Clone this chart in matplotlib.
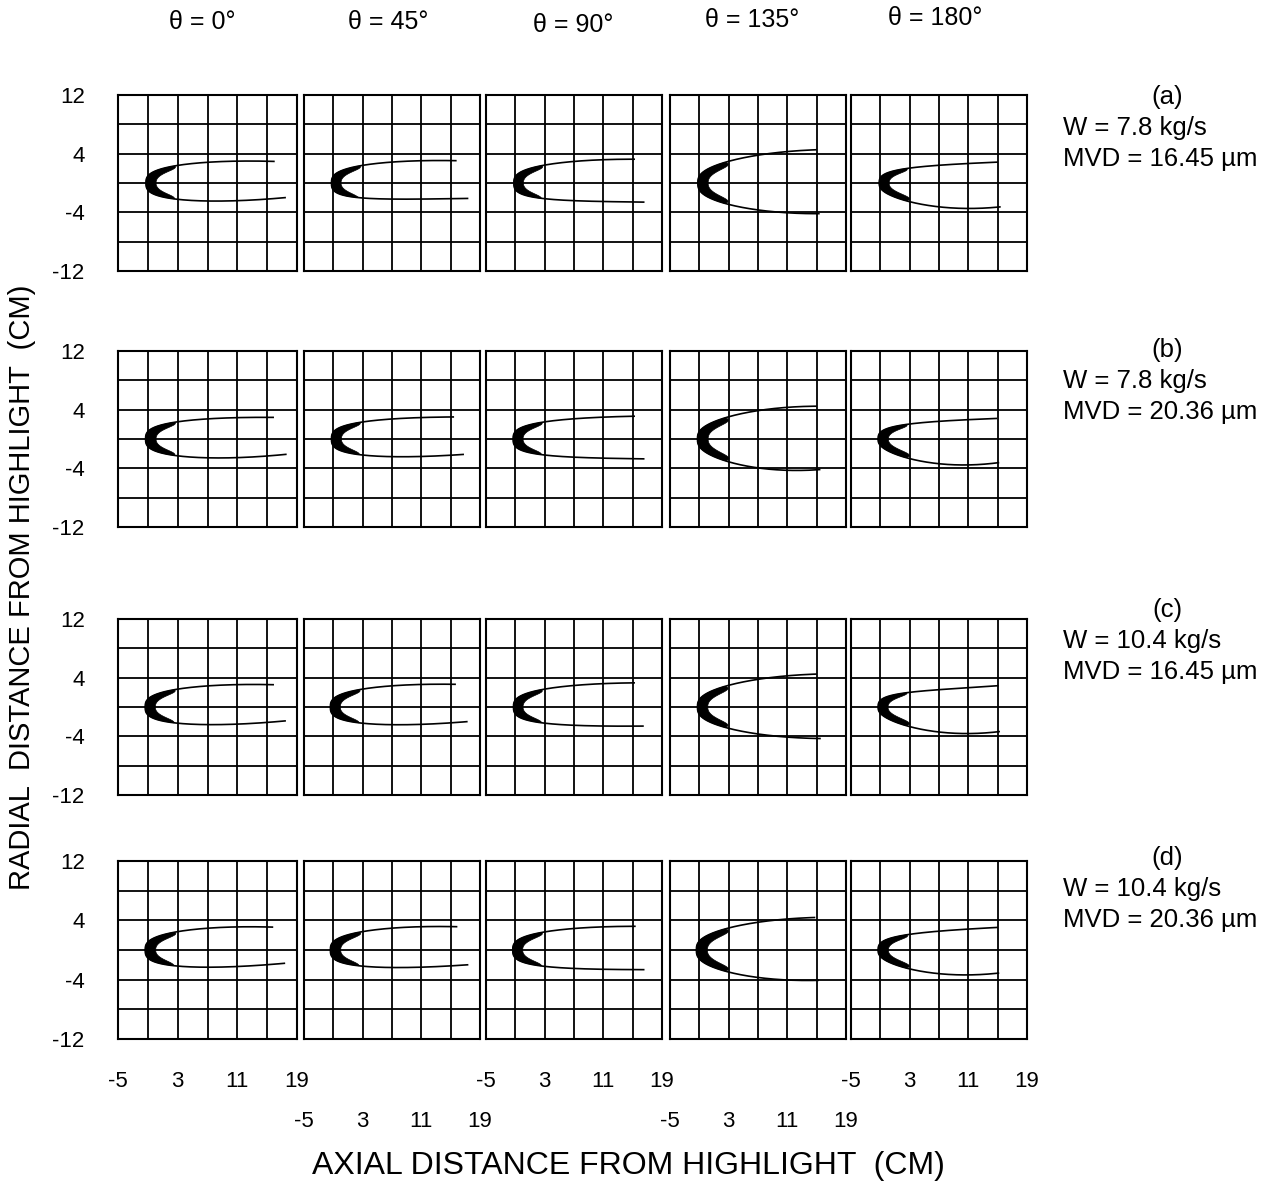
import matplotlib.pyplot as plt
import numpy as np

plt.rcParams['font.family'] = ['Liberation Sans', 'DejaVu Sans']

# Données
thetas = ["θ = 0°", "θ = 45°", "θ = 90°", "θ = 135°", "θ = 180°"]
case_tags = ["(a)", "(b)", "(c)", "(d)"]
case_flow = ["W = 7.8 kg/s", "W = 7.8 kg/s", "W = 10.4 kg/s", "W = 10.4 kg/s"]
case_mvd = ["MVD = 16.45 µm", "MVD = 20.36 µm", "MVD = 16.45 µm", "MVD = 20.36 µm"]

x_ticks = [-5, 3, 11, 19]
y_ticks = [-12, -4, 4, 12]
grid_x = [-1, 3, 7, 11, 15]
grid_y = [-8, -4, 0, 4, 8]

# stations en x ou on lit les limites d'impact
stations = [3, 7, 11]

# bord d'attaque de la glace (x du nez), par ligne (a-d) et par theta
nose_x = [
    [-1.25, -1.25, -1.2, -1.2, -1.15],
    [-1.3, -1.25, -1.3, -1.25, -1.3],
    [-1.35, -1.4, -1.25, -1.25, -1.3],
    [-1.35, -1.4, -1.35, -1.4, -1.3],
]
# demi-hauteur du nez, 0.5 cm derriere le bord d'attaque (par theta)
nose_half = [1.2, 1.2, 1.2, 1.3, 1.1]
# epaisseur de glace au nez
ice_thick = [
    [1.35, 1.3, 1.3, 1.4, 1.35],
    [1.4, 1.35, 1.35, 1.45, 1.4],
    [1.35, 1.35, 1.3, 1.4, 1.35],
    [1.4, 1.4, 1.35, 1.5, 1.4],
]
# limite superieure : y aux stations, puis point final (x, y)
upper_y = [
    [[2.4, 2.85, 2.95], [2.4, 2.9, 3.0], [2.45, 2.95, 3.15], [3.0, 3.8, 4.2], [1.85, 2.6, 2.8]],
    [[2.35, 2.75, 2.9], [2.3, 2.75, 2.95], [2.3, 2.8, 3.0], [3.1, 3.85, 4.2], [1.85, 2.6, 2.8]],
    [[2.45, 2.9, 3.0], [2.45, 2.9, 3.05], [2.45, 2.95, 3.15], [3.0, 3.75, 4.2], [1.8, 2.55, 2.8]],
    [[2.5, 2.95, 3.05], [2.5, 2.95, 3.1], [2.45, 2.9, 3.1], [3.0, 3.75, 4.1], [1.95, 2.7, 2.95]],
]
upper_end = [
    [(15.9, 2.95), (15.7, 3.05), (15.2, 3.25), (14.9, 4.55), (14.9, 2.8)],
    [(15.8, 2.95), (15.35, 3.0), (15.2, 3.1), (14.9, 4.5), (14.8, 2.75)],
    [(15.8, 3.05), (15.6, 3.1), (15.2, 3.3), (14.9, 4.5), (15.0, 2.85)],
    [(15.7, 3.1), (15.8, 3.15), (15.3, 3.2), (14.7, 4.4), (14.9, 3.0)],
]
# limite inferieure
lower_y = [
    [[-2.2, -2.55, -2.35], [-2.0, -2.25, -2.2], [-2.1, -2.45, -2.55], [-3.0, -3.6, -4.0], [-2.3, -3.45, -3.7]],
    [[-2.3, -2.6, -2.5], [-2.15, -2.45, -2.4], [-2.15, -2.5, -2.65], [-3.2, -3.9, -4.15], [-2.5, -3.6, -3.6]],
    [[-2.2, -2.45, -2.3], [-2.2, -2.45, -2.35], [-2.2, -2.5, -2.6], [-2.9, -3.7, -4.1], [-2.4, -3.7, -3.8]],
    [[-2.2, -2.3, -2.2], [-2.2, -2.35, -2.3], [-2.2, -2.5, -2.6], [-3.0, -3.7, -4.0], [-2.3, -3.4, -3.6]],
]
lower_end = [
    [(17.4, -2.0), (17.3, -2.1), (16.5, -2.6), (15.3, -4.2), (15.3, -3.2)],
    [(17.5, -2.1), (16.7, -2.1), (16.5, -2.7), (15.4, -4.2), (15.1, -3.2)],
    [(17.4, -1.9), (17.2, -2.0), (16.4, -2.6), (15.45, -4.3), (15.2, -3.3)],
    [(17.3, -1.8), (17.3, -2.0), (16.5, -2.65), (15.2, -4.1), (15.1, -3.05)],
]


def limit_curve(x0, yn, ys, end, n=300):
    # y = a*u^0.35 + b*u + c*u^2 (u = x - x0), ajuste sur les points lus
    pu = np.array([0.5] + [s - x0 for s in stations] + [end[0] - x0])
    py = np.array([yn] + list(ys) + [end[1]], dtype=float)
    wt = np.array([3.0, 1.5, 1.0, 1.0, 1.5])
    A = np.column_stack([pu**0.35, pu, pu**2])
    coef = np.linalg.lstsq(A * wt[:, None], py * wt, rcond=None)[0]
    u = pu[-1] * np.linspace(0, 1, n) ** 3
    y = coef[0] * u**0.35 + coef[1] * u + coef[2] * u**2
    return u + x0, y, u


fig = plt.figure(figsize=(12.76, 11.85), dpi=100)
W, H = 1276, 1185

col_px = [(118, 297), (304, 480), (486, 662), (670, 846), (851, 1027)]
row_px = [(95, 271), (351, 527), (619, 795), (861, 1039)]

for r, (top, bot) in enumerate(row_px):
    for c, (left, right) in enumerate(col_px):
        ax = fig.add_axes([left / W, 1 - bot / H, (right - left) / W, (bot - top) / H])
        ax.set_xlim(-5, 19)
        ax.set_ylim(-12, 12)
        for gx in grid_x:
            ax.axvline(gx, color='black', lw=1.3, zorder=1)
        for gy in grid_y:
            ax.axhline(gy, color='black', lw=1.3, zorder=1)
        for sp in ax.spines.values():
            sp.set_linewidth(1.5)

        x0 = nose_x[r][c]
        ux, uy, uu = limit_curve(x0, nose_half[c], upper_y[r][c], upper_end[r][c])
        lx, ly, lu = limit_curve(x0, -nose_half[c], lower_y[r][c], lower_end[r][c])
        ax.plot(ux, uy, color='black', lw=1.2, zorder=3)
        ax.plot(lx, ly, color='black', lw=1.2, zorder=3)

        # croissant de glace noir au bord d'attaque
        u_tip = (stations[0] - x0) * 0.9
        T = ice_thick[r][c]
        parts = []
        for cx, cy, cu in ((ux, uy, uu), (lx, ly, lu)):
            k = cu <= u_tip
            s = np.abs(cy[k] / cy[k][-1])
            w = T * (1 + 1.2 * s**2) * (1 - s**6)
            parts.append((np.column_stack([cx[k], cy[k]]),
                          np.column_stack([cx[k] + w, cy[k]])))
        (uo, ui), (lo, li) = parts
        poly = np.vstack([uo[::-1], lo, li[::-1], ui])
        ax.fill(poly[:, 0], poly[:, 1], color='black', lw=0.5, ec='black', zorder=3)

        ax.set_xticks(x_ticks)
        ax.set_yticks(y_ticks)
        ax.tick_params(length=0, labelsize=16)
        if r == len(row_px) - 1:
            ax.set_xticklabels([str(v) for v in x_ticks])
            ax.tick_params(axis='x', pad=23 if c % 2 == 0 else 52)
        else:
            ax.set_xticklabels([])
        if c == 0:
            ax.set_yticklabels([str(v) for v in y_ticks])
            ax.tick_params(axis='y', pad=24)
        else:
            ax.set_yticklabels([])

# titres theta
theta_pos = [(202, 22), (388, 22), (573, 25), (752, 20), (935, 18)]
for tt, (px, py) in zip(thetas, theta_pos):
    fig.text(px / W, 1 - py / H, tt, ha='center', va='center', fontsize=18)

# conditions d'essai a droite
tag_y = [97, 350, 610, 858]
for tag, wl, mvd, ty in zip(case_tags, case_flow, case_mvd, tag_y):
    fig.text(1167 / W, 1 - ty / H, tag, ha='center', va='center', fontsize=18.5)
    fig.text(1063 / W, 1 - (ty + 31) / H, wl, ha='left', va='center', fontsize=18.5)
    fig.text(1063 / W, 1 - (ty + 62) / H, mvd, ha='left', va='center', fontsize=18.5)

fig.text(628 / W, 1 - 1166 / H, "AXIAL DISTANCE FROM HIGHLIGHT  (CM)",
         ha='center', va='center', fontsize=23)
fig.text(22 / W, 1 - 587 / H, "RADIAL  DISTANCE FROM HIGHLIGHT  (CM)",
         ha='center', va='center', rotation=90, fontsize=21)

fig.savefig("out.png", dpi=100)
